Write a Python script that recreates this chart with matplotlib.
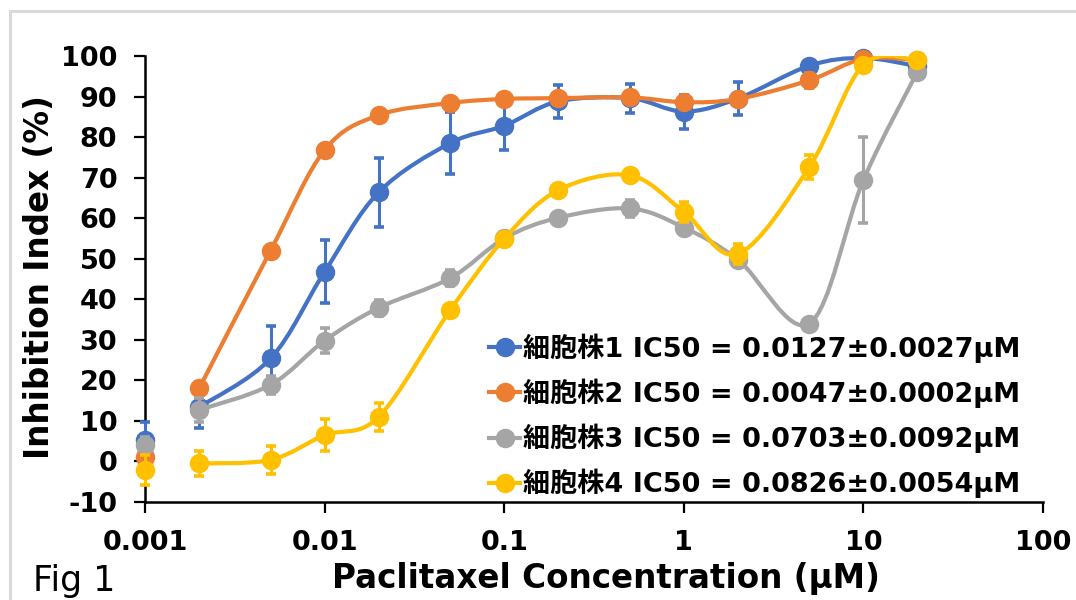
import numpy as np
import matplotlib
matplotlib.use('Agg')
from matplotlib import pyplot as plt
from matplotlib.path import Path
import matplotlib.patches as mpatches
import matplotlib.lines as mlines

plt.rcParams['font.family'] = ['DejaVu Sans', 'Noto Sans CJK JP']
plt.rcParams['axes.unicode_minus'] = False

# Data
conc = [0.001, 0.002, 0.005, 0.01, 0.02, 0.05, 0.1, 0.2, 0.5, 1, 2, 5, 10, 20]

line1 = [5.3, 13.4, 25.4, 46.8, 66.4, 78.5, 82.8, 88.8, 89.6, 86.3, 89.5, 97.6, 99.5, 97.5]
err1 = [4.5, 5.2, 8.0, 7.8, 8.5, 7.7, 6.0, 4.0, 3.6, 4.2, 4.0, 1.0, 0.8, 1.0]

line2 = [1.2, 18.0, 52.0, 76.8, 85.4, 88.4, 89.4, 89.6, 89.8, 88.6, 89.4, 94.0, 99.3, 99.0]
err2 = [1.0, 1.5, 1.0, 1.0, 0.8, 0.8, 0.6, 0.6, 0.8, 1.0, 1.0, 1.8, 0.8, 0.6]

line3 = [4.1, 12.7, 18.9, 29.8, 37.9, 45.2, 55.0, 60.1, 62.4, 57.7, 49.8, 34.0, 69.4, 96.1]
err3 = [2.0, 3.0, 2.2, 3.0, 2.0, 2.0, 1.0, 1.0, 2.0, 1.2, 1.5, 1.0, 10.6, 1.0]

line4 = [-2.1, -0.5, 0.4, 6.5, 11.0, 37.3, 54.9, 66.9, 70.6, 61.6, 51.2, 72.6, 97.8, 99.0]
err4 = [3.7, 3.0, 3.5, 4.0, 3.5, 1.0, 1.0, 1.0, 1.5, 2.5, 2.5, 3.0, 1.0, 0.8]

labels = ['細胞株1 IC50 = 0.0127±0.0027μM',
          '細胞株2 IC50 = 0.0047±0.0002μM',
          '細胞株3 IC50 = 0.0703±0.0092μM',
          '細胞株4 IC50 = 0.0826±0.0054μM']
colors = ['#4472C4', '#ED7D31', '#A5A5A5', '#FFC000']

xticks = [0.001, 0.01, 0.1, 1, 10, 100]
xticklabels = ['0.001', '0.01', '0.1', '1', '10', '100']
yticks = list(range(-10, 101, 10))


def smooth_path(x, y):
    # Excel-like smoothed line: Catmull-Rom bezier in log-x space
    pts = np.column_stack([np.log10(x), y])
    n = len(pts)
    verts = [pts[0]]
    codes = [Path.MOVETO]
    for i in range(n - 1):
        p0 = pts[i - 1] if i > 0 else pts[i]
        p1 = pts[i]
        p2 = pts[i + 1]
        p3 = pts[i + 2] if i + 2 < n else pts[i + 1]
        verts += [p1 + (p2 - p0) / 6.0, p2 - (p3 - p1) / 6.0, p2]
        codes += [Path.CURVE4] * 3
    verts = np.array(verts)
    verts[:, 0] = 10 ** verts[:, 0]
    return Path(verts, codes)


fig = plt.figure(figsize=(10.76, 6), dpi=100)
ax = fig.add_axes([0.1348, 0.1633, 0.8345, 0.7434])

# light frame around the chart
frame = mpatches.Rectangle((10 / 1076, -0.1), 1.2, 0.1 + 589 / 600, transform=fig.transFigure,
                           fill=False, edgecolor='#d9d9d9', linewidth=2.2, zorder=0)
fig.patches.append(frame)

series = [(line1, err1), (line2, err2), (line3, err3), (line4, err4)]
handles = []
for k, (vals, errs) in enumerate(series):
    c = colors[k]
    z = 3 + k * 3
    # the curve starts at the second concentration
    path = smooth_path(conc[1:], vals[1:])
    ax.add_patch(mpatches.PathPatch(path, fill=False, edgecolor=c, linewidth=3.0,
                                    capstyle='round', joinstyle='round', zorder=z))
    eb = ax.errorbar(conc, vals, yerr=errs, fmt='none', ecolor=c, elinewidth=2.2,
                     capsize=3.6, capthick=2.6, zorder=z + 1)
    for art in eb.lines[1] + eb.lines[2]:
        art.set_clip_on(False)
    ax.plot(conc, vals, linestyle='none', marker='o', markersize=13, color=c,
            zorder=z + 2, clip_on=False)
    handles.append(mlines.Line2D([], [], color=c, linewidth=3.0, marker='o', markersize=13,
                                 label=labels[k]))

ax.set_xscale('log')
ax.set_xlim(0.001, 100)
ax.set_ylim(-10, 100)
ax.set_xticks(xticks)
ax.set_xticklabels(xticklabels)
ax.set_yticks(yticks)
ax.minorticks_off()
ax.tick_params(axis='both', direction='out', length=8, width=1.6, labelsize=19.5, pad=12)
for lab in ax.get_xticklabels() + ax.get_yticklabels():
    lab.set_fontweight('bold')

ax.spines['top'].set_visible(False)
ax.spines['right'].set_visible(False)
ax.spines['left'].set_linewidth(1.8)
ax.spines['bottom'].set_linewidth(1.8)

ax.text(-0.118, 0.504, 'Inhibition Index (%)', transform=ax.transAxes, rotation=90,
        ha='center', va='center', fontsize=23.5, fontweight='bold')
ax.text(0.513, -0.172, 'Paclitaxel Concentration (μM)', transform=ax.transAxes,
        ha='center', va='center', fontsize=23.5, fontweight='bold')
fig.text(33 / 1076, 1 - 581 / 600, 'Fig 1', ha='left', va='center', fontsize=25)

ax.legend(handles=handles, loc='upper left', bbox_to_anchor=(0.383, 0.378), frameon=False,
          prop={'weight': 'bold', 'size': 19.5}, handlelength=1.15,
          handletextpad=0.1, labelspacing=0.58, borderpad=0, borderaxespad=0)

fig.savefig('out.png', dpi=100)
